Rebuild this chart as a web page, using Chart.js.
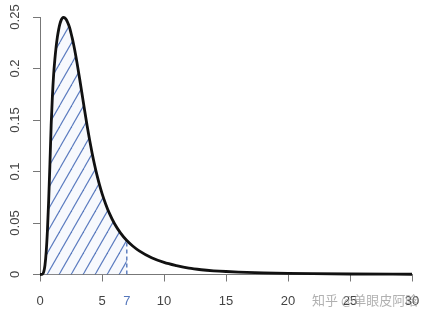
<!DOCTYPE html>
<html><head><meta charset="utf-8">
<script src="https://cdn.jsdelivr.net/npm/chart.js@4"></script>
<style>
html,body{margin:0;padding:0;background:#fff;}
#wrap{position:relative;width:432px;height:320px;}
#wm{position:absolute;left:312px;top:291px;font-size:13px;font-family:"Noto Sans CJK SC";color:rgba(150,150,150,0.75);white-space:nowrap;line-height:18px;}
</style>
</head><body>
<div id="wrap"><canvas id="c" width="432" height="320"></canvas><div id="wm">知乎 @单眼皮阿晗</div></div>
<script>
// density curve
const xs = [0, 0.2, 0.3, 0.4, 0.5, 0.6, 0.7, 0.8, 0.9, 1.0, 1.1, 1.2, 1.3, 1.4, 1.5, 1.6, 1.7, 1.8, 1.9, 2.0, 2.1, 2.2, 2.3, 2.4, 2.5, 2.6, 2.7, 2.8, 2.9, 3.0, 3.2, 3.4, 3.6, 3.8, 4.0, 4.2, 4.4, 4.6, 4.8, 5.0, 5.3, 5.6, 6.0, 6.5, 7.0, 7.5, 8, 9, 10, 11, 12, 13, 14, 15, 16, 18, 20, 22, 25, 30];
const density = [0, 0.0003, 0.0025, 0.009, 0.022, 0.043, 0.072, 0.107, 0.145, 0.173, 0.194, 0.209, 0.221, 0.2305, 0.2375, 0.243, 0.2467, 0.2489, 0.2496, 0.2492, 0.2478, 0.2456, 0.2427, 0.2392, 0.2345, 0.2295, 0.224, 0.218, 0.2115, 0.2045, 0.1898, 0.1745, 0.1592, 0.1445, 0.1307, 0.118, 0.1065, 0.0962, 0.087, 0.0788, 0.0683, 0.0593, 0.0495, 0.0402, 0.033, 0.0274, 0.0229, 0.0162, 0.0117, 0.0086, 0.0061, 0.0046, 0.0036, 0.0029, 0.0024, 0.0016, 0.0011, 0.0008, 0.0005, 0.00025];
const cutX = 7;
const cutY = 0.033;
const xTicks = [0, 5, 7, 10, 15, 20, 25, 30];
const xTickLabels = ['0', '5', '7', '10', '15', '20', '25', '30'];
const yTicks = [0, 0.05, 0.1, 0.15, 0.2, 0.25];
const yTickLabels = ['0', '0.05', '0.1', '0.15', '0.2', '0.25'];

const curvePts = xs.map((x, i) => ({x: x, y: density[i]}));
const shadePts = curvePts.filter(p => p.x <= cutX);

// hatch pattern
const pc = document.createElement('canvas');
const PW = 12, PH = 21;
pc.width = PW; pc.height = PH;
const g = pc.getContext('2d');
g.fillStyle = '#f7f9fd';
g.fillRect(0, 0, PW, PH);
g.strokeStyle = '#5a7bbf';
g.lineWidth = 1.15;
for (let k = -1; k <= 1; k++) {
  g.beginPath();
  g.moveTo(k * PW, PH);
  g.lineTo(k * PW + PW, 0);
  g.stroke();
}
const hatch = document.getElementById('c').getContext('2d').createPattern(pc, 'repeat');

const axisColor = '#777';
const labelColor = '#444';
const blue = '#5577bb';
const font = {family: 'Liberation Sans', size: 13};

new Chart(document.getElementById('c'), {
  type: 'line',
  data: {
    datasets: [
      {data: curvePts, borderColor: '#111', borderWidth: 2.8, pointRadius: 0, fill: false, cubicInterpolationMode: 'monotone', clip: false},
      {data: [{x: cutX, y: 0}, {x: cutX, y: cutY}], borderColor: blue, borderWidth: 1.4, borderDash: [4, 3], pointRadius: 0, fill: false},
      {data: shadePts, borderWidth: 0, borderColor: 'rgba(0,0,0,0)', backgroundColor: hatch, pointRadius: 0, fill: 'origin', cubicInterpolationMode: 'monotone'}
    ]
  },
  options: {
    responsive: false,
    animation: false,
    devicePixelRatio: 1,
    layout: {padding: {top: 17, right: 20, left: 0, bottom: 0}},
    plugins: {legend: {display: false}, tooltip: {enabled: false}},
    scales: {
      x: {
        type: 'linear', min: 0, max: 30,
        afterBuildTicks: s => { s.ticks = xTicks.map(v => ({value: v})); },
        afterFit: s => { s.height = 45.5; },
        border: {display: true, color: axisColor, width: 1},
        grid: {display: true, drawOnChartArea: false, drawTicks: true, tickLength: 7,
               tickColor: c => (c.tick && c.tick.value === cutX) ? 'rgba(0,0,0,0)' : axisColor},
        ticks: {
          font: font, padding: 12, maxRotation: 0, autoSkip: false,
          color: c => (c.tick && c.tick.value === cutX) ? blue : labelColor,
          callback: (v) => xTickLabels[xTicks.indexOf(v)]
        }
      },
      y: {
        type: 'linear', min: 0, max: 0.25,
        afterBuildTicks: s => { s.ticks = yTicks.map(v => ({value: v})); },
        afterFit: s => { s.width = 40; },
        border: {display: true, color: axisColor, width: 1},
        grid: {display: true, drawOnChartArea: false, drawTicks: true, tickLength: 7, tickColor: axisColor},
        ticks: {
          font: font, padding: 5, minRotation: 90, maxRotation: 90, crossAlign: 'center', autoSkip: false,
          color: labelColor,
          callback: (v) => yTickLabels[yTicks.indexOf(v)]
        }
      }
    }
  }
});
</script>
</body></html>
